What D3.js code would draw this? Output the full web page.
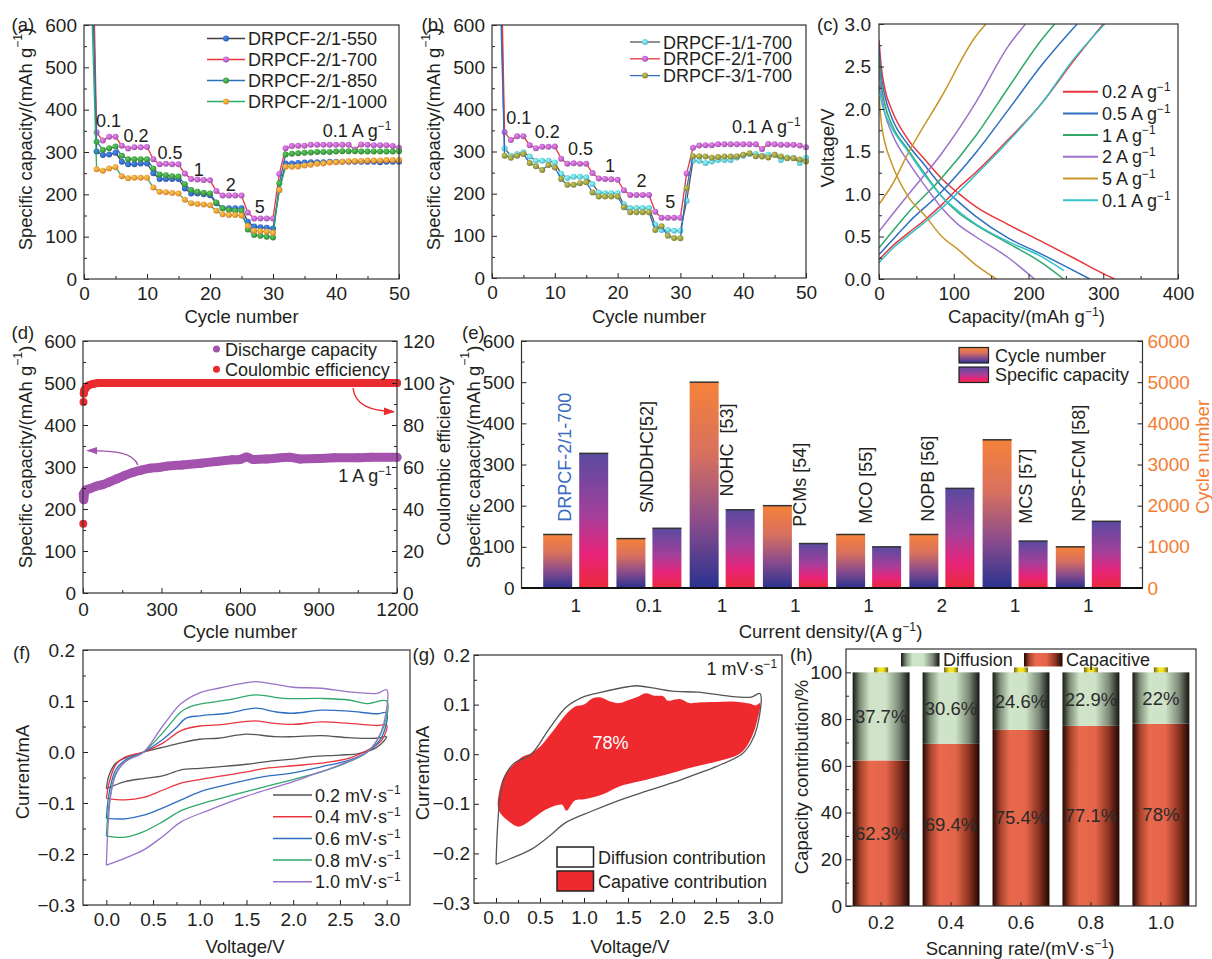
<!DOCTYPE html>
<html>
<head>
<meta charset="utf-8">
<title>DRPCF electrochemical performance</title>
<script src="https://cdn.jsdelivr.net/npm/d3@7"></script>
<style>
  body { margin: 0; background: #fff; }
  svg { display: block; }
</style>
</head>
<body>
<div id="wrapper"></div>
<script>
// ---------------- data ----------------
const cycleNo = d3.range(1, 51);

// (a) rate capability of DRPCF-2/1-T (cycle 1 lies above the 600 limit)
const cap550  = [1000, 301,293,294,298, 277,271,271,273,273, 250,236,236,236,236, 214,202,202,200,198,
  179,167,167,167,167, 135,124,122,121,119, 210,273,273,274,275,276,276,276,277,277,277,277,277,277,277,277,276,277,277,277];
const cap700  = [1100, 346,327,336,336, 315,308,311,311,312, 283,271,272,271,271, 249,236,235,234,233,
  208,197,197,197,197, 157,143,143,143,143, 248,309,314,315,315,317,317,317,317,317,317,317,306,318,317,316,316,316,314,310];
const cap850  = [900, 324,305,309,313, 291,283,283,283,283, 261,247,245,243,242, 224,210,206,204,202,
  181,167,163,161,161, 117,104,102,100,98, 226,294,296,297,298,299,300,300,300,301,302,302,302,301,301,301,301,301,301,302];
const cap1000 = [750, 259,256,261,264, 243,238,239,239,239, 216,206,205,203,202, 187,179,177,176,174,
  161,153,151,151,150, 125,114,113,112,109, 210,265,265,266,268,270,272,273,275,276,277,278,279,279,280,280,280,281,281,281];

// (b) rate capability of DRPCF-x/1-700
const cap11 = [950, 307,290,294,298, 288,278,278,278,274, 247,237,240,240,239, 223,203,201,201,201,
  175,166,166,166,166, 126,114,114,112,112, 183,278,278,273,276,280,280,280,286,290,294,294,290,292,292,280,286,285,273,285];
const cap21 = cap700;
const cap31 = [850, 290,285,290,294, 273,265,256,268,262, 235,221,221,225,227, 203,193,193,193,193,
  168,156,156,156,156, 114,123,100,95,94, 213,289,289,288,285,287,288,288,289,292,296,289,288,286,292,288,284,284,281,276];

const rateLabels = ["0.1", "0.2", "0.5", "1", "2", "5", "0.1 A g^-1"];

// (c) charge/discharge profiles, [capacity mAh/g, voltage V]
const cRates = ["0.2 A g^-1", "0.5 A g^-1", "1 A g^-1", "2 A g^-1", "5 A g^-1", "0.1 A g^-1"];
const cDischarge = [
  [[0,2.81],[3,2.5],[8,2.23],[17,1.99],[39,1.64],[62,1.40],[84,1.18],[106,1.01],[129,0.855],[173,0.64],[218,0.44],[263,0.235],[296,0.08],[315,0]],
  [[0,2.72],[3,2.4],[8,2.15],[17,1.9],[39,1.58],[62,1.33],[84,1.09],[106,0.91],[129,0.74],[173,0.48],[218,0.29],[245,0.17],[282,0]],
  [[0,2.6],[3,2.3],[8,2.05],[17,1.82],[39,1.52],[62,1.23],[84,0.97],[106,0.78],[129,0.64],[173,0.42],[218,0.19],[247,0]],
  [[0,2.46],[3,2.2],[8,1.95],[17,1.72],[39,1.38],[62,1.09],[84,0.835],[106,0.64],[129,0.5],[173,0.25],[208,0]],
  [[0,2.15],[3.6,1.8],[8,1.6],[17,1.36],[39,0.97],[62,0.74],[84,0.5],[106,0.345],[129,0.17],[157,0]],
  [[0,2.29],[3,2.1],[8,1.95],[17,1.78],[39,1.5],[62,1.21],[84,0.97],[106,0.8],[129,0.65],[173,0.44],[218,0.26],[247,0.1]]
];
const cCharge = [
  [[0,0.227],[17,0.38],[39,0.54],[62,0.70],[84,0.875],[106,1.07],[129,1.25],[173,1.64],[218,2.07],[258,2.54],[300,3.0]],
  [[0,0.286],[17,0.45],[39,0.66],[84,1.03],[129,1.48],[173,1.99],[218,2.52],[265,3.0]],
  [[0,0.365],[17,0.55],[39,0.78],[84,1.19],[129,1.68],[173,2.25],[218,2.82],[235,3.0]],
  [[0,0.56],[17,0.75],[39,0.99],[84,1.48],[129,2.07],[173,2.74],[196,3.0]],
  [[0,0.88],[17,1.1],[39,1.48],[84,2.15],[129,2.85],[143,3.0]],
  [[0,0.19],[17,0.35],[39,0.51],[84,0.835],[129,1.22],[173,1.62],[218,2.07],[258,2.56],[302,3.0]]
];

// (d) long-term cycling at 1 A/g
const dCycles   = [1, 3, 6, 10, 25, 50, 75, 100, 130, 160, 190, 220, 255, 290, 320, 380, 450, 510, 570, 600, 625, 650, 700, 790, 830, 900, 960, 1050, 1100, 1200];
const dCapacity = [236, 222, 240, 245, 248, 254, 258, 264, 272, 280, 287, 292, 297, 299, 302, 305, 309, 313, 317, 318, 324, 318, 319, 323, 319, 320, 322, 322, 323, 323];
const ceCycles  = [1, 2, 3, 5, 10, 20, 40, 60, 100, 600, 1200];
const ceValues  = [33, 91, 95, 96.5, 97.5, 98.8, 99.6, 100, 100, 100, 100];

// (e) comparison with the literature
const eSamples     = ["DRPCF-2/1-700", "S/NDDHC[52]", "NOHC  [53]", "PCMs [54]", "MCO [55]", "NOPB [56]", "MCS [57]", "NPS-FCM [58]"];
const eCurrent     = ["1", "0.1", "1", "1", "1", "2", "1", "1"];
const eCycleNumber = [1300, 1200, 5000, 2000, 1300, 1300, 3600, 1000];
const eCapacity    = [327, 145, 190, 108, 100, 242, 114, 162];

// (f) CV curves, [voltage V, current mA]; upper (anodic) then lower (cathodic) branch
const fRates = ["0.2 mV\u00b7s^-1", "0.4 mV\u00b7s^-1", "0.6 mV\u00b7s^-1", "0.8 mV\u00b7s^-1", "1.0 mV\u00b7s^-1"];
const fUpper = [
  [[0,-0.072],[0.03,-0.045],[0.1,-0.022],[0.2,-0.012],[0.4,0],[0.6,0.009],[0.8,0.018],[1.0,0.025],[1.2,0.027],[1.5,0.035],[1.8,0.03],[2.0,0.03],[2.3,0.032],[2.6,0.028],[2.9,0.027],[3.0,0.03]],
  [[0,-0.091],[0.03,-0.06],[0.1,-0.025],[0.2,-0.01],[0.4,0],[0.6,0.017],[0.8,0.042],[1.0,0.051],[1.2,0.053],[1.6,0.061],[1.8,0.056],[2.0,0.054],[2.3,0.059],[2.6,0.056],[2.9,0.052],[3.0,0.053]],
  [[0,-0.13],[0.03,-0.08],[0.1,-0.035],[0.2,-0.016],[0.4,0],[0.6,0.024],[0.75,0.048],[0.85,0.066],[1.0,0.071],[1.3,0.076],[1.6,0.086],[1.8,0.079],[2.0,0.076],[2.3,0.082],[2.6,0.08],[2.9,0.075],[3.0,0.077]],
  [[0,-0.165],[0.03,-0.1],[0.1,-0.042],[0.2,-0.019],[0.4,0],[0.6,0.037],[0.8,0.079],[0.9,0.089],[1.0,0.094],[1.3,0.102],[1.6,0.112],[1.9,0.105],[2.3,0.105],[2.6,0.102],[2.8,0.095],[3.0,0.1]],
  [[0,-0.222],[0.02,-0.14],[0.05,-0.081],[0.1,-0.045],[0.2,-0.019],[0.4,0],[0.6,0.05],[0.8,0.095],[1.0,0.116],[1.2,0.125],[1.5,0.136],[1.6,0.138],[1.8,0.133],[2.0,0.127],[2.3,0.125],[2.6,0.118],[2.9,0.115],[3.0,0.122]]
];
const fLower = [
  [[2.9,0.01],[2.7,-0.003],[2.5,-0.006],[2.2,-0.009],[2.0,-0.014],[1.8,-0.017],[1.5,-0.024],[1.2,-0.029],[1.0,-0.032],[0.8,-0.035],[0.6,-0.047],[0.4,-0.052],[0.2,-0.058],[0,-0.072]],
  [[2.95,0.024],[2.8,0.004],[2.6,-0.012],[2.3,-0.022],[2.0,-0.027],[1.7,-0.032],[1.5,-0.039],[1.2,-0.048],[1.0,-0.054],[0.8,-0.061],[0.6,-0.075],[0.4,-0.089],[0.2,-0.094],[0,-0.091]],
  [[2.95,0.03],[2.8,0.001],[2.6,-0.016],[2.3,-0.029],[2.0,-0.041],[1.7,-0.048],[1.5,-0.055],[1.2,-0.068],[1.0,-0.078],[0.8,-0.094],[0.6,-0.11],[0.4,-0.124],[0.2,-0.131],[0,-0.13]],
  [[2.97,0.05],[2.8,0.001],[2.6,-0.019],[2.3,-0.039],[2.0,-0.054],[1.7,-0.068],[1.4,-0.082],[1.1,-0.097],[0.8,-0.115],[0.6,-0.137],[0.4,-0.156],[0.2,-0.167],[0,-0.165]],
  [[2.97,0.056],[2.9,0.024],[2.8,0.001],[2.5,-0.025],[2.2,-0.045],[2.0,-0.058],[1.7,-0.075],[1.4,-0.093],[1.1,-0.114],[0.8,-0.137],[0.6,-0.166],[0.4,-0.192],[0.2,-0.208],[0,-0.222]]
];

// (g) capacitive part of the 1 mV/s CV
const gCapUpper = [[0.02,-0.105],[0.05,-0.065],[0.1,-0.042],[0.2,-0.021],[0.3,-0.005],[0.4,0.002],[0.5,0.015],[0.6,0.036],[0.7,0.059],[0.8,0.081],[0.9,0.096],[1.0,0.1],[1.1,0.113],[1.2,0.114],[1.3,0.106],[1.4,0.103],[1.5,0.109],[1.6,0.115],[1.7,0.123],[1.8,0.118],[1.9,0.117],[1.95,0.108],[2.0,0.109],[2.1,0.111],[2.2,0.103],[2.3,0.104],[2.5,0.105],[2.7,0.106],[2.9,0.101],[2.95,0.098],[3.0,0.103]];
const gCapLower = [[2.97,0.069],[2.9,0.032],[2.8,0.005],[2.7,-0.005],[2.5,-0.015],[2.2,-0.028],[2.0,-0.038],[1.7,-0.052],[1.5,-0.06],[1.4,-0.065],[1.2,-0.082],[1.0,-0.091],[0.9,-0.093],[0.8,-0.114],[0.75,-0.102],[0.6,-0.109],[0.5,-0.119],[0.4,-0.132],[0.3,-0.144],[0.25,-0.146],[0.15,-0.136],[0.05,-0.119]];
const gCapShare = 78;

// (h) capacitive / diffusion contribution
const hRates      = ["0.2", "0.4", "0.6", "0.8", "1.0"];
const hCapacitive = [62.3, 69.4, 75.4, 77.1, 78];
const hDiffusion  = [37.7, 30.6, 24.6, 22.9, 22];

// ---------------- drawing ----------------
const FONT = "'Liberation Sans', Arial, Helvetica, sans-serif";
const INK = "#231f20";
const TICK_FS = 19, TITLE_FS = 18.5;

const svg = d3.select("#wrapper").append("svg")
  .attr("width", 1212).attr("height", 959)
  .attr("font-family", FONT).attr("font-size", 18).attr("fill", INK);
const defs = svg.append("defs");

function clip(id, box, pad) {
  defs.append("clipPath").attr("id", "clip-" + id).append("rect")
    .attr("x", box.l - pad).attr("y", box.t)
    .attr("width", box.r - box.l + 2 * pad).attr("height", box.b - box.t + pad);
  return `url(#clip-${id})`;
}

function ball(color) {
  const id = "ball" + color.replace("#", "");
  if (defs.select("#" + id).empty()) {
    const rg = defs.append("radialGradient").attr("id", id)
      .attr("cx", "40%").attr("cy", "38%").attr("r", "65%");
    rg.append("stop").attr("offset", "0%").attr("stop-color", d3.color(color).brighter(1.1));
    rg.append("stop").attr("offset", "100%").attr("stop-color", d3.color(color).darker(0.3));
  }
  return `url(#${id})`;
}

function grad(id, stops, vertical) {
  const lg = defs.append("linearGradient").attr("id", id)
    .attr("x1", 0).attr("y1", 0).attr("x2", vertical ? 0 : 1).attr("y2", vertical ? 1 : 0);
  stops.forEach(s => lg.append("stop").attr("offset", s[0]).attr("stop-color", s[1]));
  return `url(#${id})`;
}

// text with "^-1" turned into a superscript
function rich(t, str, fs) {
  str.split("^-1").forEach((p, i) => {
    if (i > 0) t.append("tspan").attr("dy", -fs * 0.4).attr("font-size", fs * 0.66).text("\u22121");
    if (p.length) {
      const s = t.append("tspan").text(p);
      if (i > 0) s.attr("dy", fs * 0.4);
    }
  });
  return t;
}
function label(g, x, y, str, o = {}) {
  const fs = o.fs || 18;
  const t = g.append("text").attr("x", x).attr("y", y).attr("font-size", fs)
    .attr("text-anchor", o.anchor || "start");
  if (o.rotate) t.attr("transform", `rotate(-90,${x},${y})`).attr("dominant-baseline", "central");
  if (o.fill) t.attr("fill", o.fill);
  return rich(t, str, fs);
}
const title = (g, x, y, str, o = {}) => label(g, x, y, str, Object.assign({anchor: "middle", fs: TITLE_FS}, o));

function axes(g, box, x, y, o) {
  const a = g.append("g").attr("color", INK).attr("font-size", TICK_FS);
  const add = (gen, tr) => a.append("g").attr("transform", tr).call(gen)
    .attr("font-size", null).attr("font-family", null);
  const bottom = `translate(0,${box.b})`, left = `translate(${box.l},0)`, right = `translate(${box.r},0)`;
  if (o.xMinor) add(d3.axisBottom(x).tickValues(o.xMinor).tickSize(-3).tickFormat(""), bottom);
  if (o.xTicks) add(d3.axisBottom(x).tickValues(o.xTicks).tickSize(o.xSize ?? -5).tickPadding(o.xPad ?? 8)
    .tickFormat(o.xFmt || d3.format("d")), bottom);
  if (o.yMinor) add(d3.axisLeft(y).tickValues(o.yMinor).tickSize(-3).tickFormat(""), left);
  if (o.yTicks) add(d3.axisLeft(y).tickValues(o.yTicks).tickSize(-5).tickPadding(o.yPad ?? 7)
    .tickFormat(o.yFmt || d3.format("d")), left);
  if (o.rMinor) add(d3.axisRight(o.yR).tickValues(o.rMinor).tickSize(-3).tickFormat(""), right);
  if (o.rTicks) {
    const r = add(d3.axisRight(o.yR).tickValues(o.rTicks).tickSize(-5).tickPadding(o.rPad ?? 5)
      .tickFormat(d3.format("d")), right);
    if (o.rColor) r.selectAll("text").attr("fill", o.rColor);
  }
  a.selectAll(".domain").remove();
  g.append("rect").attr("x", box.l).attr("y", box.t)
    .attr("width", box.r - box.l).attr("height", box.b - box.t)
    .attr("fill", "none").attr("stroke", "#333").attr("stroke-width", 1.2);
}

// ---- (a) and (b): rate performance ----
function ratePanel(id, box, series, leg, pos) {
  const g = svg.append("g");
  const x = d3.scaleLinear([0, 50], [box.l, box.r]);
  const y = d3.scaleLinear([0, 600], [box.b, box.t]);
  const plot = g.append("g").attr("clip-path", clip(id, box, 6));
  const line = d3.line().x((d, i) => x(cycleNo[i])).y(d => y(d));
  series.forEach(s => {
    plot.append("path").attr("d", line(s.values))
      .attr("fill", "none").attr("stroke", s.line).attr("stroke-width", 1.3);
    plot.append("g").selectAll("circle").data(s.values).join("circle")
      .attr("cx", (d, i) => x(cycleNo[i])).attr("cy", d => y(d))
      .attr("r", 3).attr("fill", ball(s.marker));
  });
  rateLabels.forEach((t, i) =>
    label(g, x(pos[i][0]), y(pos[i][1]), t, {anchor: i < rateLabels.length - 1 ? "middle" : "start"}));
  series.forEach((s, i) => {
    const yy = leg.y0 + i * leg.dy;
    g.append("line").attr("x1", leg.x1).attr("x2", leg.x2).attr("y1", yy).attr("y2", yy)
      .attr("stroke", s.line).attr("stroke-width", 1.3);
    g.append("circle").attr("cx", (leg.x1 + leg.x2) / 2).attr("cy", yy)
      .attr("r", 3).attr("fill", ball(s.marker));
    label(g, leg.tx, yy + 6.5, s.name, {fs: leg.fs || 18});
  });
  axes(g, box, x, y, {
    xTicks: d3.range(0, 51, 10), xMinor: d3.range(5, 50, 10),
    yTicks: d3.range(0, 601, 100), yMinor: d3.range(50, 600, 100)
  });
  title(g, (box.l + box.r) / 2, 323, "Cycle number");
  title(g, box.l - 59, 139, "Specific capacity/(mAh g^-1)", {rotate: true});
  return g;
}

ratePanel("a", {l: 84, r: 399, t: 25, b: 279}, [
  {name: "DRPCF-2/1-550",  values: cap550,  line: "#404040", marker: "#2f5fb5"},
  {name: "DRPCF-2/1-700",  values: cap700,  line: "#e8363f", marker: "#a65ab8"},
  {name: "DRPCF-2/1-850",  values: cap850,  line: "#2f6fc0", marker: "#3a8f3a"},
  {name: "DRPCF-2/1-1000", values: cap1000, line: "#2fa86a", marker: "#f28a30"}
], {x1: 207, x2: 245, tx: 248, y0: 38.5, dy: 21},
  [[3.9, 360], [8.25, 324], [13.65, 283.5], [18.2, 243], [23.3, 208.6], [27.9, 155], [37.9, 336]]);

ratePanel("b", {l: 492, r: 806, t: 25, b: 278}, [
  {name: "DRPCF-1/1-700", values: cap11, line: "#555555", marker: "#5cc8dc"},
  {name: "DRPCF-2/1-700", values: cap21, line: "#e8363f", marker: "#a65ab8"},
  {name: "DRPCF-3/1-700", values: cap31, line: "#2f6fc0", marker: "#8a8a3a"}
], {x1: 630, x2: 660, tx: 663, y0: 42, dy: 16.8},
  [[4.25, 365], [8.8, 332], [14.1, 292], [18.8, 252], [23.8, 216.5], [28.4, 166], [38.2, 343]]);

// ---- (c): charge/discharge profiles ----
{
  const box = {l: 879, r: 1178, t: 24, b: 279};
  const g = svg.append("g");
  const x = d3.scaleLinear([0, 400], [box.l, box.r]);
  const y = d3.scaleLinear([0, 3], [box.b, box.t]);
  const colors = ["#e8363f", "#2f6fc0", "#2fa86a", "#9b72c9", "#c9962c", "#35c2c9"];
  const line = d3.line().x(d => x(d[0])).y(d => y(d[1])).curve(d3.curveMonotoneX);
  const plot = g.append("g").attr("clip-path", clip("c", box, 0));
  cRates.forEach((r, i) => {
    [cDischarge[i], cCharge[i]].forEach(curve =>
      plot.append("path").attr("d", line(curve)).attr("fill", "none")
        .attr("stroke", colors[i]).attr("stroke-width", 1.5));
    const yy = 91.7 + i * 21.7;
    g.append("line").attr("x1", 1063).attr("x2", 1098).attr("y1", yy).attr("y2", yy)
      .attr("stroke", colors[i]).attr("stroke-width", 2);
    label(g, 1102, yy + 6.5, r);
  });
  axes(g, box, x, y, {
    xTicks: d3.range(0, 401, 100), xMinor: [50, 150, 250, 350],
    yTicks: d3.range(0, 3.01, 0.5), yMinor: d3.range(0.25, 3, 0.5), yFmt: d3.format(".1f"), yPad: 8
  });
  title(g, (box.l + box.r) / 2 - 2, 323, "Capacity/(mAh g^-1)");
  title(g, 826.5, 148, "Voltage/V", {rotate: true});
}

// ---- (d): long cycling ----
{
  const box = {l: 83, r: 397, t: 341, b: 593};
  const g = svg.append("g");
  const x = d3.scaleLinear([0, 1200], [box.l, box.r]);
  const y = d3.scaleLinear([0, 600], [box.b, box.t]);
  const yR = d3.scaleLinear([0, 120], [box.b, box.t]);
  const purple = "#a352ad", red = "#ea2b2f";
  g.append("path")
    .attr("d", d3.line().x((d, i) => x(dCycles[i])).y(d => y(d)).curve(d3.curveMonotoneX)(dCapacity))
    .attr("fill", "none").attr("stroke", purple).attr("stroke-width", 9).attr("stroke-linecap", "round");
  g.append("g").selectAll("circle").data(dCapacity).join("circle")
    .attr("cx", (d, i) => x(dCycles[i])).attr("cy", d => y(d)).attr("r", 4.5).attr("fill", purple);
  g.append("path")
    .attr("d", d3.line().x((d, i) => x(ceCycles[i + 2])).y(d => yR(d)).curve(d3.curveMonotoneX)(ceValues.slice(2)))
    .attr("fill", "none").attr("stroke", red).attr("stroke-width", 8).attr("stroke-linecap", "round");
  g.append("g").selectAll("circle").data(ceValues).join("circle")
    .attr("cx", (d, i) => x(ceCycles[i])).attr("cy", d => yR(d)).attr("r", 4).attr("fill", red);

  const arrow = (id, color) => {
    defs.append("marker").attr("id", id).attr("viewBox", "0 0 10 10").attr("refX", 9).attr("refY", 5)
      .attr("markerWidth", 11).attr("markerHeight", 11).attr("markerUnits", "userSpaceOnUse")
      .attr("orient", "auto").append("path").attr("d", "M0,1.5L10,5L0,8.5Z").attr("fill", color);
    return `url(#${id})`;
  };
  const redArrow = [[1032, 97.6], [1039, 89.5], [1097, 86.7], [1188, 86.3]].map(p => [x(p[0]), yR(p[1])]);
  g.append("path").attr("d", `M${redArrow[0]}C${redArrow[1]} ${redArrow[2]} ${redArrow[3]}`)
    .attr("fill", "none").attr("stroke", red).attr("stroke-width", 1.4).attr("marker-end", arrow("arRed", red));
  const purpleArrow = [[210, 305], [191, 333], [134, 339], [17, 339]].map(p => [x(p[0]), y(p[1])]);
  g.append("path").attr("d", `M${purpleArrow[0]}C${purpleArrow[1]} ${purpleArrow[2]} ${purpleArrow[3]}`)
    .attr("fill", "none").attr("stroke", purple).attr("stroke-width", 1.4).attr("marker-end", arrow("arPurple", purple));

  label(g, x(975), y(265), "1 A g^-1");
  [["Discharge capacity", purple], ["Coulombic efficiency", red]].forEach((s, i) => {
    const yy = 349 + i * 20.3;
    g.append("circle").attr("cx", 216.5).attr("cy", yy).attr("r", 3.5).attr("fill", s[1]);
    label(g, 225, yy + 6.5, s[0]);
  });
  axes(g, box, x, y, {
    xTicks: d3.range(0, 1201, 300), xMinor: [150, 450, 750, 1050], xPad: 10,
    yTicks: d3.range(0, 601, 100), yMinor: d3.range(50, 600, 100),
    yR, rTicks: d3.range(0, 121, 20), rMinor: d3.range(10, 120, 20), rPad: 6
  });
  title(g, 240, 638, "Cycle number");
  title(g, 25, 457, "Specific capacity/(mAh g^-1)", {rotate: true});
  title(g, 442.5, 461, "Coulombic efficiency", {rotate: true});
}

// ---- (e): comparison bars ----
{
  const box = {l: 521.5, r: 1142.5, t: 341, b: 588};
  const g = svg.append("g");
  const x = d3.scalePoint(d3.range(eSamples.length), [box.l, box.r]).padding(0.74);
  const y = d3.scaleLinear([0, 600], [box.b, box.t]);
  const yR = d3.scaleLinear([0, 6000], [box.b, box.t]);
  const orange = "#f47c30";
  const cycFill = grad("gCycle", [[0, "#f5823a"], [0.35, "#d8705f"], [0.68, "#8a4c8c"], [1, "#2a3290"]], true);
  const capFill = grad("gSpec", [[0, "#5a4aa0"], [0.45, "#a2409a"], [0.75, "#e8247a"], [1, "#ea2a3a"]], true);
  const bw = 29, gap = 3.5;
  const bars = [
    {vals: eCycleNumber, sc: yR, fill: cycFill, dx: -gap - bw},
    {vals: eCapacity, sc: y, fill: capFill, dx: gap}
  ];
  bars.forEach(b => {
    const gb = g.append("g").selectAll("g").data(b.vals).join("g");
    gb.append("rect").attr("x", (d, i) => x(i) + b.dx).attr("width", bw)
      .attr("y", d => b.sc(d)).attr("height", d => box.b - b.sc(d)).attr("fill", b.fill);
    gb.append("line").attr("x1", (d, i) => x(i) + b.dx).attr("x2", (d, i) => x(i) + b.dx + bw)
      .attr("y1", d => b.sc(d)).attr("y2", d => b.sc(d)).attr("stroke", "#333").attr("stroke-width", 1.5);
  });
  // sample names, rotated above the bars
  const namePos = [[-10.5, 161], [-1.5, 182], [5, 222], [5, 149], [-2.5, 156], [-13.5, 161], [11, 156], [-9, 161]];
  eSamples.forEach((s, i) => {
    g.append("text").attr("transform", `translate(${x(i) + namePos[i][0]},${y(namePos[i][1])}) rotate(-90)`)
      .attr("dominant-baseline", "central").style("white-space", "pre")
      .attr("fill", i === 0 ? "#3a6cc0" : INK).text(s);
  });
  eCurrent.forEach((c, i) => label(g, x(i), 612, c, {anchor: "middle", fs: TICK_FS}));
  // legend
  [["Cycle number", cycFill], ["Specific capacity", capFill]].forEach((s, i) => {
    const yy = 347.5 + i * 19.5;
    g.append("rect").attr("x", 959).attr("y", yy).attr("width", 29.5).attr("height", 15.5)
      .attr("fill", s[1]).attr("stroke", "#222").attr("stroke-width", 1.2);
    label(g, 995, yy + 14, s[0]);
  });
  axes(g, box, x, y, {
    yTicks: d3.range(0, 601, 100), yMinor: d3.range(50, 600, 100),
    yR, rTicks: d3.range(0, 6001, 1000), rMinor: d3.range(500, 6000, 1000), rColor: orange, rPad: 5
  });
  g.append("line").attr("x1", box.l).attr("x2", box.r).attr("y1", box.b).attr("y2", box.b)
    .attr("stroke", "#111").attr("stroke-width", 2.2);
  title(g, 830.5, 638, "Current density/(A g^-1)");
  title(g, 472.5, 457, "Specific capacity/(mAh g^-1)", {rotate: true});
  title(g, 1201.5, 457, "Cycle number", {rotate: true, fill: orange});
}

// ---- (f): CV curves ----
const cvX = box => d3.scaleLinear([-0.25, 3.25], [box.l, box.r]);
const cvY = box => d3.scaleLinear([-0.3, 0.2], [box.b, box.t]);
const cvAxes = {
  xTicks: d3.range(0, 3.01, 0.5), xMinor: d3.range(0.25, 3, 0.5), xFmt: d3.format(".1f"),
  yTicks: d3.range(-0.3, 0.201, 0.1), yMinor: d3.range(-0.25, 0.2, 0.1), yFmt: d3.format(".1f")
};
{
  const box = {l: 83, r: 410, t: 650, b: 905};
  const g = svg.append("g");
  const x = cvX(box), y = cvY(box);
  const colors = ["#555555", "#e8363f", "#2f6fc0", "#2fa86a", "#9b72c9"];
  const line = d3.line().x(d => x(d[0])).y(d => y(d[1])).curve(d3.curveCatmullRom.alpha(0.5));
  fRates.forEach((r, i) => {
    g.append("path").attr("d", line(fUpper[i].concat(fLower[i])))
      .attr("fill", "none").attr("stroke", colors[i]).attr("stroke-width", 1.3);
    const yy = 795 + i * 21.7;
    g.append("line").attr("x1", 273).attr("x2", 312).attr("y1", yy).attr("y2", yy)
      .attr("stroke", colors[i]).attr("stroke-width", 1.5);
    label(g, 315, yy + 6.5, r);
  });
  axes(g, box, x, y, Object.assign({yPad: 8}, cvAxes));
  title(g, 245, 953, "Voltage/V");
  title(g, 21.5, 772, "Current/mA", {rotate: true});
}

// ---- (g): capacitive contribution at 1 mV/s ----
{
  const box = {l: 474, r: 782, t: 655, b: 903};
  const g = svg.append("g");
  const x = cvX(box), y = cvY(box);
  const red = "#ee2a2e";
  g.append("path")
    .attr("d", d3.line().x(d => x(d[0])).y(d => y(d[1])).curve(d3.curveCatmullRomClosed.alpha(0.5))(gCapUpper.concat(gCapLower)))
    .attr("fill", red);
  g.append("path")
    .attr("d", d3.line().x(d => x(d[0])).y(d => y(d[1])).curve(d3.curveCatmullRom.alpha(0.5))(fUpper[4].concat(fLower[4])))
    .attr("fill", "none").attr("stroke", "#555").attr("stroke-width", 1.3);
  label(g, x(1.3), y(0.011), `${gCapShare}%`, {anchor: "middle", fill: "#fff"});
  label(g, 777, 675, "1 mV\u00b7s^-1", {anchor: "end"});
  [["Diffusion contribution", "#fff"], ["Capative contribution", red]].forEach((s, i) => {
    const yy = 847 + i * 24;
    g.append("rect").attr("x", 557).attr("y", yy).attr("width", 36.5).attr("height", 20)
      .attr("fill", s[1]).attr("stroke", "#222").attr("stroke-width", 1.5);
    label(g, 598, yy + 16.5, s[0]);
  });
  axes(g, box, x, y, Object.assign({yPad: 4}, cvAxes));
  title(g, 630, 953, "Voltage/V");
  title(g, 421.5, 773, "Current/mA", {rotate: true});
}

// ---- (h): contribution bars ----
{
  const box = {l: 846, r: 1196, t: 649, b: 906};
  const g = svg.append("g");
  const x = d3.scaleBand(hRates, [box.l, box.r]).paddingInner(0.186).paddingOuter(0.095);
  const y = d3.scaleLinear([0, 110], [box.b, box.t]);
  const capFill = grad("gCapacitive", [[0, "#220804"], [0.14, "#a8442c"], [0.3, "#e8694c"], [0.58, "#e4654a"], [0.82, "#8a3220"], [1, "#1e0703"]]);
  const difFill = grad("gDiffusion", [[0, "#141812"], [0.13, "#7e8f78"], [0.3, "#cfe4c8"], [0.58, "#cde2c6"], [0.82, "#7b8876"], [1, "#141512"]]);
  const tipFill = grad("gTip", [[0, "#6e6410"], [0.35, "#f2e628"], [0.65, "#f2e628"], [1, "#6e6410"]]);
  const gb = g.append("g").selectAll("g").data(hRates).join("g");
  gb.append("rect").attr("x", d => x(d)).attr("width", x.bandwidth())
    .attr("y", (d, i) => y(hCapacitive[i])).attr("height", (d, i) => y(0) - y(hCapacitive[i])).attr("fill", capFill);
  gb.append("rect").attr("x", d => x(d)).attr("width", x.bandwidth())
    .attr("y", (d, i) => y(hCapacitive[i] + hDiffusion[i]))
    .attr("height", (d, i) => y(hCapacitive[i]) - y(hCapacitive[i] + hDiffusion[i])).attr("fill", difFill);
  gb.append("rect").attr("x", d => x(d) + x.bandwidth() / 2 - 7).attr("width", 14)
    .attr("y", (d, i) => y(hCapacitive[i] + hDiffusion[i]) - 5).attr("height", 5).attr("fill", tipFill);
  gb.append("text").attr("x", d => x(d) + x.bandwidth() / 2).attr("y", (d, i) => y(hCapacitive[i] + hDiffusion[i] / 2))
    .attr("text-anchor", "middle").attr("dominant-baseline", "central").attr("fill", "#2a2a2a")
    .attr("font-size", 18.5).text((d, i) => `${hDiffusion[i]}%`);
  gb.append("text").attr("x", d => x(d) + x.bandwidth() / 2).attr("y", (d, i) => y(hCapacitive[i] / 2))
    .attr("text-anchor", "middle").attr("dominant-baseline", "central").attr("fill", "#2a2a2a")
    .attr("font-size", 18.5).text((d, i) => `${hCapacitive[i]}%`);
  [["Diffusion", difFill, 901], ["Capacitive", capFill, 1024]].forEach(s => {
    g.append("rect").attr("x", s[2]).attr("y", 653).attr("width", 38.5).attr("height", 13.5).attr("fill", s[1]);
    label(g, s[2] + 42, 665.5, s[0]);
  });
  axes(g, box, x, y, {
    xTicks: hRates, xSize: -4, xPad: 10, xFmt: d => d,
    yTicks: d3.range(0, 101, 20), yMinor: d3.range(10, 110, 20), yPad: 4
  });
  title(g, 1020, 955, "Scanning rate/(mV\u00b7s^-1)");
  title(g, 801, 777, "Capacity contribution/%", {rotate: true});
}

// ---- panel letters ----
[["(a)", 11.5, 31], ["(b)", 421.5, 31], ["(c)", 817, 31], ["(d)", 11.5, 339], ["(e)", 462, 339],
 ["(f)", 13, 659], ["(g)", 412.5, 661], ["(h)", 790, 661]]
  .forEach(p => svg.append("text").attr("x", p[1]).attr("y", p[2]).attr("font-size", 18.5).text(p[0]));
</script>
</body>
</html>
